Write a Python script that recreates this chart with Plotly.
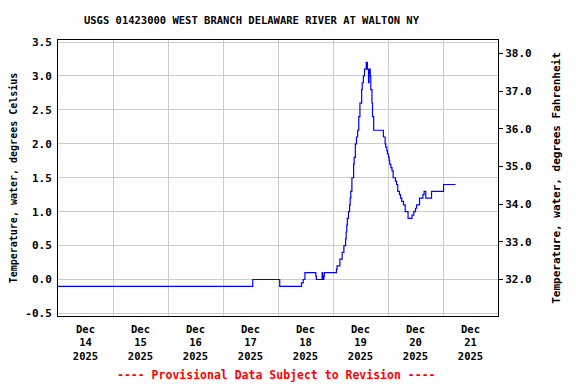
import plotly.graph_objects as go

# ---- data ----
times = [
    "2025-12-14 00:00", "2025-12-17 13:00", "2025-12-18 00:45", "2025-12-18 10:15",
    "2025-12-18 11:00", "2025-12-18 11:45", "2025-12-18 16:30", "2025-12-18 16:45",
    "2025-12-18 19:15", "2025-12-18 19:30", "2025-12-18 20:00", "2025-12-18 20:15",
    "2025-12-19 01:30", "2025-12-19 01:45", "2025-12-19 03:00", "2025-12-19 04:00",
    "2025-12-19 04:45", "2025-12-19 05:30", "2025-12-19 05:45", "2025-12-19 06:00",
    "2025-12-19 06:15", "2025-12-19 06:45", "2025-12-19 07:15", "2025-12-19 07:30",
    "2025-12-19 07:45", "2025-12-19 08:15", "2025-12-19 09:00", "2025-12-19 09:15",
    "2025-12-19 09:45", "2025-12-19 10:15", "2025-12-19 10:45", "2025-12-19 11:15",
    "2025-12-19 11:45", "2025-12-19 12:30", "2025-12-19 12:45", "2025-12-19 13:15",
    "2025-12-19 13:45", "2025-12-19 14:30", "2025-12-19 15:00", "2025-12-19 15:30",
    "2025-12-19 15:45", "2025-12-19 16:15", "2025-12-19 16:30", "2025-12-19 17:00",
    "2025-12-19 17:15", "2025-12-19 17:45", "2025-12-19 22:00", "2025-12-19 22:45",
    "2025-12-19 23:00", "2025-12-19 23:30", "2025-12-19 23:45", "2025-12-20 00:15",
    "2025-12-20 00:30", "2025-12-20 00:45", "2025-12-20 01:15", "2025-12-20 01:45",
    "2025-12-20 02:15", "2025-12-20 03:15", "2025-12-20 03:45", "2025-12-20 04:15",
    "2025-12-20 05:00", "2025-12-20 05:30", "2025-12-20 06:00", "2025-12-20 06:45",
    "2025-12-20 07:30", "2025-12-20 08:45", "2025-12-20 10:30", "2025-12-20 11:15",
    "2025-12-20 12:00", "2025-12-20 12:30", "2025-12-20 13:45", "2025-12-20 15:15",
    "2025-12-20 15:45", "2025-12-20 16:30", "2025-12-20 19:00", "2025-12-21 00:15",
    "2025-12-21 05:30",
]
temp_c = [
    -0.1, 0.0, -0.1, -0.05,
    0.0, 0.1, 0.05, 0.0,
    0.1, 0.0, 0.05, 0.1,
    0.15, 0.2, 0.3, 0.4,
    0.5, 0.6, 0.7, 0.8,
    0.9, 1.0, 1.1, 1.2,
    1.3, 1.5, 1.7, 1.8,
    2.0, 2.1, 2.2, 2.4,
    2.6, 2.8, 2.9, 3.0,
    3.1, 3.2, 3.1, 2.9,
    3.1, 3.0, 2.8, 2.6,
    2.4, 2.2, 2.1, 2.0,
    1.95, 1.9, 1.85, 1.8,
    1.75, 1.7, 1.65, 1.6,
    1.5, 1.45, 1.4, 1.3,
    1.25, 1.2, 1.15, 1.1,
    1.0, 0.9, 0.95, 1.0,
    1.05, 1.1, 1.2, 1.25,
    1.3, 1.2, 1.3, 1.4,
    1.4,
]

x_tick_vals = ["2025-12-14 12:00", "2025-12-15 12:00", "2025-12-16 12:00", "2025-12-17 12:00",
               "2025-12-18 12:00", "2025-12-19 12:00", "2025-12-20 12:00", "2025-12-21 12:00"]
x_tick_text = ["Dec<br>14<br>2025", "Dec<br>15<br>2025", "Dec<br>16<br>2025", "Dec<br>17<br>2025",
               "Dec<br>18<br>2025", "Dec<br>19<br>2025", "Dec<br>20<br>2025", "Dec<br>21<br>2025"]
c_tick_vals = [-0.5, 0.0, 0.5, 1.0, 1.5, 2.0, 2.5, 3.0, 3.5]
c_tick_text = ["-0.5", "0.0", "0.5", "1.0", "1.5", "2.0", "2.5", "3.0", "3.5"]
f_tick_vals = [32, 33, 34, 35, 36, 37, 38]
f_tick_text = ["32.0", "33.0", "34.0", "35.0", "36.0", "37.0", "38.0"]

title = "USGS 01423000 WEST BRANCH DELAWARE RIVER AT WALTON NY"
note = "---- Provisional Data Subject to Revision ----"

c_range = [-0.538, 3.53]
f_range = [c_range[0] * 1.8 + 32, c_range[1] * 1.8 + 32]

FONT = "DejaVu Sans Mono"
OFF = 8  # page body margin offset in the browser
PLOT_L, PLOT_R, PLOT_T, PLOT_B = 58 - OFF, 498 - OFF, 40 - OFF, 316 - OFF
PH = PLOT_B - PLOT_T

fig = go.Figure()
fig.add_trace(go.Scatter(
    x=times, y=temp_c, mode="lines", line=dict(color="#0000ff", width=1.2, shape="hv"),
    showlegend=False, hoverinfo="skip",
))
# invisible trace for Fahrenheit axis
fig.add_trace(go.Scatter(x=[times[0]], y=[None], yaxis="y2", showlegend=False, hoverinfo="skip"))

fig.update_layout(
    width=576, height=384,
    margin=dict(l=PLOT_L, r=576 - PLOT_R, t=PLOT_T, b=384 - PLOT_B, autoexpand=False),
    paper_bgcolor="white", plot_bgcolor="white",
    font=dict(family=FONT, size=11, color="black", weight="bold"),
    title=dict(text=title, x=(251.5 - OFF) / 576, xanchor="center", xref="container",
               y=1 - (20 - OFF) / 384, yanchor="middle", yref="container",
               font=dict(family=FONT, size=10.5, weight="bold")),
    xaxis=dict(
        type="date", range=["2025-12-14 00:00", "2025-12-22 00:00"], automargin=False,
        tickmode="array", tickvals=x_tick_vals, ticktext=x_tick_text,
        showgrid=False, ticks="", zeroline=False, ticklabelstandoff=3,
        showline=True, linecolor="black", linewidth=1, mirror=True,
        tickfont=dict(family=FONT, size=10.5, weight="bold"),
        minor=dict(tickmode="linear", tick0="2025-12-14", dtick=86400000,
                   showgrid=True, gridcolor="#cccccc", gridwidth=1, ticks=""),
    ),
    yaxis=dict(
        range=c_range, tickmode="array", tickvals=c_tick_vals, ticktext=c_tick_text,
        automargin=False, ticklabelstandoff=3,
        showgrid=True, gridcolor="#cccccc", gridwidth=1, zeroline=False,
        showline=True, linecolor="black", linewidth=1, mirror=True, ticks="",
        title=dict(text="Temperature, water, degrees Celsius", standoff=7,
                   font=dict(family=FONT, size=10, weight="bold")),
        tickfont=dict(family=FONT, size=11, weight="bold"),
    ),
    yaxis2=dict(
        range=f_range, overlaying="y", side="right", anchor="x", automargin=False,
        tickmode="array", tickvals=f_tick_vals, ticktext=f_tick_text,
        showgrid=False, zeroline=False, ticks="outside", ticklen=4, tickcolor="black",
        title=dict(text="Temperature, water, degrees Fahrenheit", standoff=21,
                   font=dict(family=FONT, size=11, weight="bold")),
        tickfont=dict(family=FONT, size=11, weight="bold"),
    ),
    annotations=[dict(
        text=note, xref="paper", yref="paper",
        x=(276 - OFF - PLOT_L) / (PLOT_R - PLOT_L), y=-(375 - OFF - PLOT_B) / PH,
        xanchor="center", yanchor="middle", showarrow=False,
        font=dict(family=FONT, size=11.5, color="#ff0000", weight="bold"),
    )],
)

fig.write_html("out.html")
